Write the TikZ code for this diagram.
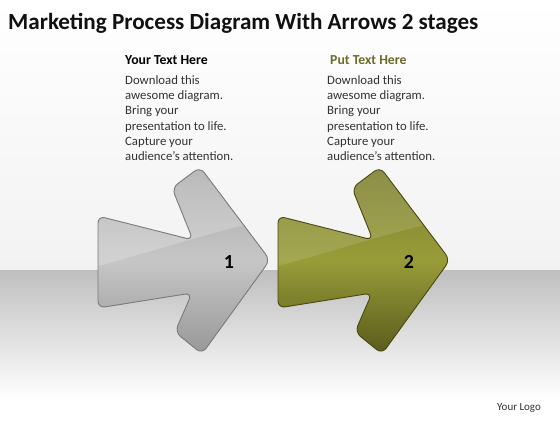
\documentclass[tikz,border=0pt]{standalone}
\usepackage{fontspec}
\setmainfont{Carlito}
\usetikzlibrary{calc}
\definecolor{titlec}{HTML}{111111}
\definecolor{bodyc}{HTML}{333333}
\definecolor{olivehead}{HTML}{6B6B2A}
\definecolor{floorc}{HTML}{BFBFBF}
\definecolor{skyc}{HTML}{F2F2F2}
\definecolor{grayA}{HTML}{A4A4A4}
\definecolor{grayB}{HTML}{C6C6C6}
\definecolor{grayC}{HTML}{959595}
\definecolor{grayE}{HTML}{7A7A7A}
\definecolor{olA}{HTML}{7A7C2E}
\definecolor{olB}{HTML}{989C38}
\definecolor{olC}{HTML}{55571A}
\definecolor{olE}{HTML}{48480F}
\tikzset{
  heading/.style={anchor=base west,font=\bfseries\fontsize{13.8}{16}\selectfont,inner sep=0pt},
  bodytext/.style={anchor=north west,align=left,text=bodyc,font=\fontsize{12.8}{15.4}\selectfont,inner sep=0pt},
  numlabel/.style={font=\bfseries\fontsize{20}{22}\selectfont,text=black},
}
\newcommand{\arrowpath}[1]{%
  ($(#1)+(98,216)$) -- ($(#1)+(193,240)$) -- ($(#1)+(172,188)$) -- ($(#1)+(200,167)$) --
  ($(#1)+(270,260)$) -- ($(#1)+(202,354)$) -- ($(#1)+(175,332)$) -- ($(#1)+(192,293)$) --
  ($(#1)+(98,308)$) -- cycle}
\begin{document}
\begin{tikzpicture}[x=1bp,y=-1bp]
\useasboundingbox (0,0) rectangle (560,420);
% background
\shade[top color=white,bottom color=skyc] (0,0) rectangle (560,270);
\shade[top color=floorc,bottom color=white] (0,270) rectangle (560,400);
\fill[white] (0,400) rectangle (560,420);
% title
\node[anchor=base west,text=titlec,font=\bfseries\fontsize{23.2}{28}\selectfont,inner sep=0pt] (title) at (8,29) {Marketing Process Diagram With Arrows 2 stages};
% text columns
\node[heading,text=black] (h1) at (125,64) {Your Text Here};
\node[heading,text=olivehead] (h2) at (330,64) {Put Text Here};
\node[bodytext] (b1) at (125,75) {Download this\\awesome diagram.\\Bring your\\presentation to life.\\Capture your\\audience’s attention.};
\node[bodytext] (b2) at (327,75) {Download this\\awesome diagram.\\Bring your\\presentation to life.\\Capture your\\audience’s attention.};
\coordinate (o1) at (0,0);
\coordinate (o2) at (180,0);
% arrow 1
\begin{scope}
\clip[rounded corners=7] \arrowpath{o1};
\shade[top color=grayA,bottom color=grayC,middle color=grayB] (90,160) rectangle (280,360);
\fill[white,opacity=0.22] (90,160) -- (90,268) .. controls (160,250) and (220,228) .. (280,218) -- (280,160) -- cycle;
\end{scope}
\draw[grayE,line width=0.9,rounded corners=7] \arrowpath{o1};
% arrow 2
\begin{scope}
\clip[rounded corners=7] \arrowpath{o2};
\shade[top color=olA,bottom color=olC,middle color=olB] (270,160) rectangle (460,360);
\fill[white,opacity=0.12] (270,160) -- (270,268) .. controls (340,250) and (400,228) .. (460,218) -- (460,160) -- cycle;
\end{scope}
\draw[olE,line width=0.9,rounded corners=7] \arrowpath{o2};
% numbers
\node[numlabel] (n1) at (229,262) {1};
\node[numlabel] (n2) at (409,262) {2};
% logo
\node[anchor=base west,text=bodyc,font=\fontsize{11}{13}\selectfont,inner sep=0pt] (logo) at (497,410) {Your Logo};
\end{tikzpicture}
\end{document}
